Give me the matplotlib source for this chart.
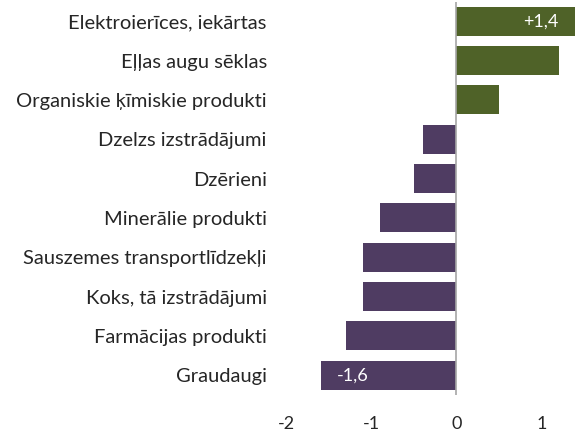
import matplotlib
matplotlib.use("Agg")
import matplotlib.pyplot as plt

# Data
categories = ["Elektroierīces, iekārtas", "Eļļas augu sēklas", "Organiskie ķīmiskie produkti",
              "Dzelzs izstrādājumi", "Dzērieni", "Minerālie produkti",
              "Sauszemes transportlīdzekļi", "Koks, tā izstrādājumi",
              "Farmācijas produkti", "Graudaugi"]
values = [1.4, 1.21, 0.5, -0.4, -0.5, -0.9, -1.1, -1.1, -1.3, -1.6]
bar_labels = {0: "+1,4", 9: "-1,6"}
xticks = [-2, -1, 0, 1]
xtick_labels = ["-2", "-1", "0", "1"]

plt.rcParams["font.family"] = ["Lato", "DejaVu Sans"]

green = "#4F6228"
purple = "#4F3C62"
colors = [green if v > 0 else purple for v in values]

fig = plt.figure(figsize=(5.76, 4.34), dpi=100)
ax = fig.add_axes([0.498, 0.090, 0.502, 0.9065])

ypos = list(range(len(categories)))
ax.barh(ypos, values, height=0.74, color=colors)
ax.axvline(0, color="#A6A6A6", lw=1.2)

for i, txt in bar_labels.items():
    v = values[i]
    if v > 0:
        ax.text(v - 0.2, i, txt, color="white", ha="right", va="center", fontsize=13)
    else:
        ax.text(v + 0.19, i, txt, color="white", ha="left", va="center", fontsize=13)

ax.set_yticks(ypos)
ax.set_yticklabels(categories, fontsize=14.5, color="#262626")
ax.set_ylim(len(categories) - 0.5, -0.5)
ax.set_xlim(-2, 1.41)
ax.set_xticks(xticks)
ax.set_xticklabels(xtick_labels, fontsize=13, color="#262626")
ax.tick_params(axis="y", length=0, pad=14.4)
ax.tick_params(axis="x", length=0, pad=15)
for s in ax.spines.values():
    s.set_visible(False)

fig.savefig("out.png", dpi=100)
